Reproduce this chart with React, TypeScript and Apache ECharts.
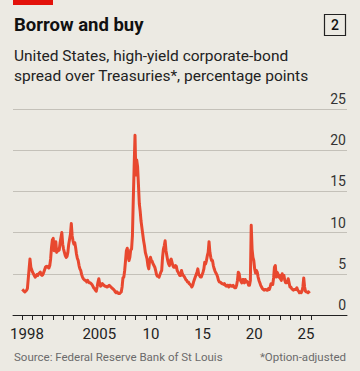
import React, { useEffect, useRef } from "react";
import * as echarts from "echarts";

// Monthly high-yield OAS, percentage points (Jan..Dec)
const s1998 = [3.1, 3.0, 2.9, 2.8, 2.9, 3.0, 3.2, 4.4, 5.6, 6.8, 5.8, 5.5];
const s1999 = [5.2, 5.0, 4.8, 4.6, 4.7, 4.9, 4.8, 5.0, 5.1, 5.2, 4.9, 4.8];
const s2000 = [4.9, 5.2, 5.5, 5.8, 5.9, 5.8, 5.9, 5.7, 6.0, 6.8, 8.2, 9.1];
const s2001 = [9.3, 7.8, 8.5, 8.9, 7.6, 8.0, 7.8, 7.9, 8.8, 9.4, 10.0, 8.6];
const s2002 = [8.0, 7.6, 7.2, 7.0, 7.1, 7.6, 8.6, 9.2, 9.8, 11.1, 9.6, 9.0];
const s2003 = [8.6, 8.8, 8.2, 7.4, 6.9, 6.6, 6.0, 5.6, 5.4, 4.9, 4.6, 4.4];
const s2004 = [4.3, 4.2, 4.2, 4.0, 4.2, 4.0, 3.9, 3.9, 3.8, 3.7, 3.5, 3.3];
const s2005 = [3.2, 3.0, 2.9, 3.4, 4.0, 4.4, 3.8, 3.5, 3.6, 3.8, 3.7, 3.6];
const s2006 = [3.5, 3.5, 3.4, 3.4, 3.5, 3.6, 3.5, 3.4, 3.3, 3.2, 3.1, 3.0];
const s2007 = [2.8, 2.7, 2.8, 2.7, 2.6, 2.6, 2.7, 2.8, 3.4, 4.5, 4.6, 5.4];
const s2008 = [6.6, 7.8, 8.1, 7.2, 6.6, 7.0, 7.9, 8.0, 9.6, 14.0, 18.0, 21.8];
const s2009 = [17.0, 18.8, 18.0, 15.8, 13.5, 12.6, 11.4, 10.6, 9.8, 9.0, 8.4, 7.6];
const s2010 = [7.2, 6.8, 6.0, 5.6, 6.6, 7.0, 6.6, 6.5, 6.2, 6.0, 5.8, 5.4];
const s2011 = [4.9, 4.7, 4.7, 4.6, 4.9, 5.2, 5.4, 7.0, 8.0, 8.4, 9.0, 7.8];
const s2012 = [7.2, 6.6, 6.2, 6.0, 6.6, 6.8, 6.4, 6.0, 5.8, 5.8, 6.0, 5.9];
const s2013 = [5.4, 5.2, 5.0, 4.8, 4.8, 5.4, 5.0, 4.8, 4.7, 4.5, 4.3, 4.2];
const s2014 = [4.0, 4.0, 3.8, 3.7, 3.6, 3.4, 3.6, 4.0, 4.3, 4.6, 4.9, 5.2];
const s2015 = [5.6, 4.9, 4.8, 4.6, 4.6, 4.9, 5.2, 5.6, 6.4, 6.2, 6.6, 7.2];
const s2016 = [7.6, 8.9, 7.6, 7.0, 6.6, 6.6, 6.0, 5.6, 5.3, 5.1, 4.9, 4.6];
const s2017 = [4.2, 4.0, 4.0, 3.9, 3.8, 3.8, 3.7, 3.8, 3.6, 3.5, 3.6, 3.6];
const s2018 = [3.4, 3.6, 3.6, 3.5, 3.5, 3.6, 3.4, 3.3, 3.3, 3.6, 4.2, 5.2];
const s2019 = [5.0, 4.3, 4.1, 3.9, 4.3, 4.3, 3.9, 4.3, 4.0, 4.1, 4.0, 3.6];
const s2020 = [3.6, 4.2, 10.9, 8.0, 7.0, 6.6, 5.6, 5.1, 5.4, 5.2, 4.6, 4.2];
const s2021 = [3.9, 3.6, 3.4, 3.2, 3.1, 3.0, 3.1, 3.1, 3.0, 3.0, 3.2, 3.1];
const s2022 = [3.4, 3.8, 3.8, 3.7, 4.5, 5.8, 6.0, 4.6, 5.2, 5.0, 4.6, 4.8];
const s2023 = [4.4, 4.2, 5.0, 4.6, 4.8, 4.2, 3.9, 3.9, 4.0, 4.4, 3.9, 3.4];
const s2024 = [3.4, 3.2, 3.1, 3.0, 3.1, 3.1, 3.1, 3.3, 3.0, 2.9, 2.7, 2.8];
const s2025 = [2.7, 2.9, 3.4, 4.5, 3.4, 2.9, 2.8, 2.8, 2.7, 2.8, 2.9];

const years = [
  1998, 1999, 2000, 2001, 2002, 2003, 2004, 2005, 2006, 2007, 2008, 2009, 2010,
  2011, 2012, 2013, 2014, 2015, 2016, 2017, 2018, 2019, 2020, 2021, 2022, 2023,
  2024, 2025,
];
const yearly = [
  s1998, s1999, s2000, s2001, s2002, s2003, s2004, s2005, s2006, s2007, s2008,
  s2009, s2010, s2011, s2012, s2013, s2014, s2015, s2016, s2017, s2018, s2019,
  s2020, s2021, s2022, s2023, s2024, s2025,
];

const tickYears = [
  1998, 1999, 2000, 2001, 2002, 2003, 2004, 2005, 2006, 2007, 2008, 2009, 2010,
  2011, 2012, 2013, 2014, 2015, 2016, 2017, 2018, 2019, 2020, 2021, 2022, 2023,
  2024, 2025, 2026,
];
const labelYears = [1998, 2005, 2010, 2015, 2020, 2025];
const labelTexts = ["1998", "2005", "10", "15", "20", "25"];

const FONT = "Roboto, 'Noto Sans', sans-serif";

export default function App() {
  const ref = useRef<HTMLDivElement>(null);

  useEffect(() => {
    if (!ref.current) return;
    const chart = echarts.init(ref.current, null, { renderer: "svg" });

    const data: number[][] = [];
    years.forEach((y, i) => {
      yearly[i].forEach((v, m) => {
        data.push([y + (m + 0.5) / 12, v]);
      });
    });

    chart.setOption({
      animation: false,
      backgroundColor: "#ECEAE3",
      textStyle: { fontFamily: FONT },
      grid: { left: 13, right: 13, top: 109, bottom: 56 },
      xAxis: {
        type: "value",
        min: 1997.148,
        max: 2029.48,
        splitLine: { show: false },
        axisLine: { show: true, lineStyle: { color: "#222", width: 1 } },
        axisTick: {
          show: true,
          customValues: tickYears,
          length: 5,
          lineStyle: { color: "#222", width: 1 },
        },
        axisLabel: {
          customValues: labelYears.map((y) => y + 0.5),
          formatter: (v: number) => {
            const idx = labelYears.indexOf(Math.floor(v));
            return idx >= 0 ? labelTexts[idx] : "";
          },
          color: "#222",
          fontSize: 15,
          fontFamily: FONT,
          margin: 11,
        },
      },
      yAxis: {
        type: "value",
        position: "right",
        min: 0,
        max: 25,
        interval: 5,
        axisLine: { show: false },
        axisTick: { show: false },
        splitLine: { show: true, lineStyle: { color: "#C4C1B9", width: 1 } },
        axisLabel: {
          inside: true,
          align: "right",
          verticalAlign: "bottom",
          margin: 1,
          padding: [0, 0, 3, 0],
          color: "#333",
          fontSize: 14,
          fontFamily: FONT,
        },
      },
      series: [
        {
          type: "line",
          data,
          showSymbol: false,
          symbol: "none",
          lineStyle: { color: "#E8482F", width: 3, join: "round" },
          z: 3,
        },
      ],
      graphic: [
        {
          type: "rect",
          shape: { x: 13, y: 0, width: 40, height: 5 },
          style: { fill: "#E3120B" },
        },
        {
          type: "text",
          x: 14,
          y: 34,
          style: {
            text: "Borrow and buy",
            font: `bold 18.5px ${FONT}`,
            fill: "#111",
            textVerticalAlign: "bottom",
          } as any,
        },
        {
          type: "rect",
          shape: { x: 324.5, y: 14.5, width: 21, height: 21 },
          style: { fill: "none", stroke: "#222", lineWidth: 1.2 },
        },
        {
          type: "text",
          x: 335,
          y: 25,
          style: {
            text: "2",
            font: `500 14px ${FONT}`,
            fill: "#111",
            align: "center",
            verticalAlign: "middle",
          },
        },
        {
          type: "text",
          x: 14,
          y: 46,
          style: {
            text: "United States, high-yield corporate-bond\nspread over Treasuries*, percentage points",
            font: `15.5px ${FONT}`,
            lineHeight: 20,
            fill: "#222",
          },
        },
        {
          type: "text",
          x: 14,
          y: 351,
          style: {
            text: "Source: Federal Reserve Bank of St Louis",
            font: `11.5px ${FONT}`,
            fill: "#6B6B6B",
          },
        },
        {
          type: "text",
          x: 346,
          y: 351,
          style: {
            text: "*Option-adjusted",
            font: `11.5px ${FONT}`,
            fill: "#6B6B6B",
            align: "right",
          },
        },
      ],
    });

    return () => chart.dispose();
  }, []);

  return (
    <div
      ref={ref}
      style={{ width: 360, height: 371, position: "absolute", left: 0, top: 0 }}
    />
  );
}
